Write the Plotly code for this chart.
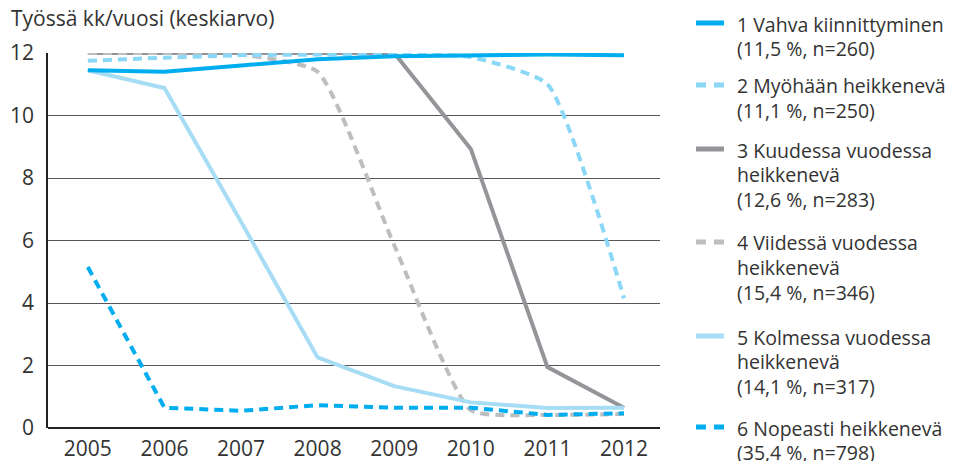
import plotly.graph_objects as go

years = [2005, 2006, 2007, 2008, 2009, 2010, 2011, 2012]

s1_vahva = [11.45, 11.4, 11.6, 11.8, 11.9, 11.93, 11.95, 11.93]
s2_myohaan = [11.75, 11.85, 11.93, 11.95, 11.97, 11.87, 11.0, 4.15]
s3_kuudessa = [12.0, 12.0, 12.0, 12.0, 12.0, 8.93, 1.95, 0.65]
s4_viidessa = [12.0, 12.0, 11.95, 11.4, 5.85, 0.57, 0.42, 0.45]
s5_kolmessa = [11.45, 10.88, 6.6, 2.26, 1.34, 0.82, 0.64, 0.65]
s6_nopeasti = [5.15, 0.65, 0.55, 0.73, 0.65, 0.65, 0.42, 0.47]

names = [
    ["1 Vahva kiinnittyminen", "(11,5 %, n=260)"],
    ["2 Myöhään heikkenevä", "(11,1 %, n=250)"],
    ["3 Kuudessa vuodessa", "heikkenevä", "(12,6 %, n=283)"],
    ["4 Viidessä vuodessa", "heikkenevä", "(15,4 %, n=346)"],
    ["5 Kolmessa vuodessa", "heikkenevä", "(14,1 %, n=317)"],
    ["6 Nopeasti heikkenevä", "(35,4 %, n=798)"],
]

FONT = "Open Sans"
FS = 21
FS_LEG = 19.5
TXT = "#333333"
OFF = 8  # page body margin
W, H = 950, 453
L, R, T, B = 40, 298, 45, 33
PW, PH = W - L - R, H - T - B


def px(x):
    return (x - OFF - L) / PW


def py(y):
    return (H - B - (y - OFF)) / PH


# (values, name index, colour, dash, shape) -- drawing order bottom to top
series = [
    (s3_kuudessa, 2, "#939598", "solid", "linear"),
    (s4_viidessa, 3, "#BCBEC0", "9px,6px", "spline"),
    (s5_kolmessa, 4, "#A6DDF5", "solid", "linear"),
    (s2_myohaan, 1, "#8AD7F7", "9px,6px", "spline"),
    (s1_vahva, 0, "#00AEEF", "solid", "linear"),
    (s6_nopeasti, 5, "#00AEEF", "9px,6px", "linear"),
]

# first-line centre of each legend entry (pixels from top)
legend_rows = [24, 86, 150, 243, 337, 428]
LINE_H = 24.5

fig = go.Figure()
for vals, i, col, dash, shape in series:
    fig.add_trace(go.Scatter(
        x=years, y=vals, mode="lines", name=" ".join(names[i]), showlegend=False,
        line=dict(color=col, width=4, dash=dash, shape=shape, smoothing=0.5),
    ))
    yc = legend_rows[i]
    fig.add_shape(type="line", xref="paper", yref="paper",
                  x0=px(696), x1=px(724), y0=py(yc - 1), y1=py(yc - 1),
                  line=dict(color=col, width=5, dash="10px,8px" if dash != "solid" else "solid"))
    for k, line_txt in enumerate(names[i]):
        fig.add_annotation(text=line_txt, xref="paper", yref="paper",
                           x=px(736), y=py(yc + k * LINE_H), xanchor="left", yanchor="middle",
                           align="left", showarrow=False, borderpad=0,
                           font=dict(size=FS_LEG, color=TXT, family=FONT))

fig.add_annotation(text="Työssä kk/vuosi (keskiarvo)", xref="paper", yref="paper",
                   x=px(9), y=py(18), xanchor="left", yanchor="middle",
                   showarrow=False, font=dict(size=FS, color=TXT, family=FONT))

fig.update_layout(
    width=W, height=H,
    margin=dict(l=L, r=R, t=T, b=B, autoexpand=False),
    plot_bgcolor="white", paper_bgcolor="white",
    font=dict(family=FONT, size=FS, color=TXT),
    showlegend=False,
)
fig.update_xaxes(range=[2004.48, 2012.47], tickmode="array", tickvals=years,
                 ticktext=[str(y) for y in years], showgrid=False, zeroline=False,
                 showline=False, ticks="", ticklabelstandoff=6, automargin=False,
                 tickfont=dict(size=FS, color=TXT))
fig.update_yaxes(range=[0, 12], tickvals=[0, 2, 4, 6, 8, 10, 12], showgrid=True,
                 gridcolor="#555555", gridwidth=1, zeroline=True, zerolinecolor="#222222",
                 zerolinewidth=1.5, showline=True, linecolor="#222222", linewidth=1.5,
                 ticks="", ticklabelstandoff=8, automargin=False,
                 tickfont=dict(size=FS, color=TXT))

fig.write_html("out.html")
